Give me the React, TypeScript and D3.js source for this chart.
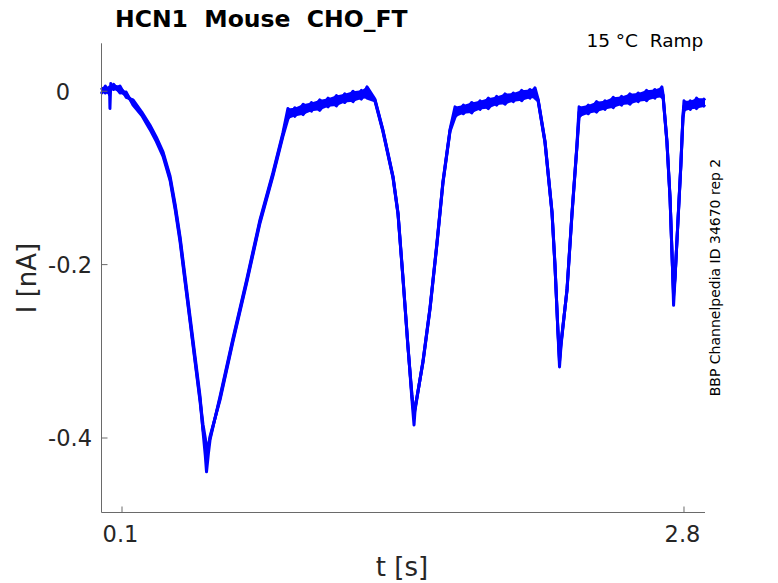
import React from "react";
import * as d3 from "d3";

// sweep time (s), shared by all repetitions
const timeS = [
  0.000, 0.020, 0.040, 0.042, 0.046, 0.060, 0.090, 0.120, 0.153, 0.195,
  0.234, 0.265, 0.297, 0.331, 0.355, 0.379, 0.403, 0.427, 0.451, 0.475,
  0.489, 0.500, 0.506, 0.515, 0.523, 0.571, 0.633, 0.700, 0.763, 0.825,
  0.873, 0.897, 0.930, 0.970, 1.010, 1.050, 1.090, 1.130, 1.170, 1.210,
  1.250, 1.277, 1.315, 1.353, 1.402, 1.426, 1.450, 1.474, 1.493, 1.503,
  1.508, 1.546, 1.580, 1.613, 1.642, 1.676, 1.700, 1.740, 1.780, 1.820,
  1.860, 1.900, 1.940, 1.980, 2.020, 2.060, 2.084, 2.099, 2.132, 2.166,
  2.180, 2.194, 2.202, 2.209, 2.238, 2.262, 2.286, 2.296, 2.340, 2.380,
  2.420, 2.460, 2.500, 2.540, 2.580, 2.620, 2.660, 2.694, 2.699, 2.718,
  2.733, 2.745, 2.750, 2.757, 2.771, 2.785, 2.795, 2.800, 2.830, 2.860,
  2.901,
];

// current (nA) for three repetitions
const repA = [
  0.004, -0.002, 0.005, -0.020, 0.009, 0.002, 0.006, -0.007, -0.010, -0.024,
  -0.039, -0.053, -0.070, -0.098, -0.130, -0.168, -0.214, -0.260, -0.306, -0.352,
  -0.392, -0.420, -0.439, -0.418, -0.402, -0.352, -0.285, -0.216, -0.148, -0.094,
  -0.048, -0.020, -0.029, -0.015, -0.023, -0.010, -0.018, -0.005, -0.013, 0.000,
  -0.009, 0.005, -0.009, -0.044, -0.098, -0.140, -0.215, -0.294, -0.356, -0.385,
  -0.368, -0.311, -0.249, -0.175, -0.104, -0.044, -0.018, -0.026, -0.013, -0.021,
  -0.008, -0.016, -0.003, -0.012, 0.001, -0.008, 0.004, -0.009, -0.057, -0.139,
  -0.199, -0.276, -0.318, -0.294, -0.228, -0.140, -0.061, -0.018, -0.026, -0.012,
  -0.021, -0.007, -0.016, -0.003, -0.012, 0.001, -0.008, 0.005, -0.003, -0.057,
  -0.122, -0.206, -0.247, -0.216, -0.149, -0.084, -0.029, -0.011, -0.021, -0.008,
  -0.018,
];

const repB = [
  -0.003, 0.006, -0.004, 0.003, 0.001, 0.008, -0.002, -0.001, -0.016, -0.028,
  -0.044, -0.058, -0.075, -0.103, -0.136, -0.174, -0.220, -0.266, -0.312, -0.358,
  -0.390, -0.405, -0.416, -0.410, -0.398, -0.356, -0.289, -0.220, -0.152, -0.098,
  -0.052, -0.032, -0.019, -0.027, -0.013, -0.022, -0.008, -0.017, -0.003, -0.012,
  0.001, -0.008, -0.011, -0.046, -0.100, -0.142, -0.217, -0.296, -0.350, -0.372,
  -0.365, -0.313, -0.251, -0.177, -0.106, -0.046, -0.030, -0.016, -0.025, -0.011,
  -0.020, -0.006, -0.015, -0.002, -0.011, 0.002, -0.008, -0.011, -0.059, -0.141,
  -0.201, -0.274, -0.308, -0.290, -0.230, -0.142, -0.063, -0.030, -0.016, -0.024,
  -0.011, -0.019, -0.006, -0.015, -0.002, -0.011, 0.002, -0.007, -0.005, -0.059,
  -0.124, -0.204, -0.232, -0.214, -0.151, -0.086, -0.031, -0.023, -0.011, -0.020,
  -0.008,
];

const repC = [
  0.001, 0.002, -0.001, 0.000, 0.005, 0.005, 0.002, -0.004, -0.013, -0.026,
  -0.041, -0.055, -0.072, -0.101, -0.133, -0.171, -0.218, -0.264, -0.310, -0.356,
  -0.384, -0.400, -0.412, -0.408, -0.400, -0.354, -0.287, -0.218, -0.150, -0.096,
  -0.050, -0.026, -0.022, -0.023, -0.016, -0.018, -0.011, -0.013, -0.006, -0.008,
  -0.002, -0.003, -0.010, -0.045, -0.099, -0.141, -0.216, -0.295, -0.352, -0.374,
  -0.366, -0.312, -0.250, -0.176, -0.105, -0.045, -0.024, -0.020, -0.021, -0.014,
  -0.016, -0.009, -0.011, -0.005, -0.007, -0.001, -0.003, -0.010, -0.058, -0.140,
  -0.200, -0.275, -0.312, -0.292, -0.229, -0.141, -0.062, -0.024, -0.019, -0.020,
  -0.014, -0.015, -0.009, -0.011, -0.005, -0.007, -0.001, -0.002, -0.004, -0.058,
  -0.123, -0.205, -0.236, -0.215, -0.150, -0.085, -0.030, -0.017, -0.016, -0.013,
  -0.013,
];

const xTicks = [0.1, 2.8];
const yTicks = [0, -0.2, -0.4];

const W = 778;
const H = 583;
const FONT = "'DejaVu Sans', sans-serif";

export default function App() {
  const x = d3.scaleLinear().domain([0, 2.9]).range([101.2, 704.8]);
  const y = d3.scaleLinear().domain([-0.4857, 0.0553]).range([512.3, 43.3]);

  const reps = [repA, repB, repC];

  const line = d3
    .line<number>()
    .x((_, i) => x(timeS[i]))
    .y((d) => y(d));

  // spread of the repetitions, drawn as a filled band under the traces
  const band = d3
    .area<number>()
    .x((t) => x(t))
    .y0((_, i) => y(d3.min(reps, (r) => r[i]) as number))
    .y1((_, i) => y(d3.max(reps, (r) => r[i]) as number));

  const left = 101.5;
  const bottom = 512.5;

  return (
    <svg
      width={W}
      height={H}
      style={{ position: "absolute", left: 0, top: 0, display: "block", background: "#fff" }}
      fontFamily={FONT}
    >
      {/* traces */}
      <path d={band(timeS) || ""} fill="#0000ff" stroke="none" />
      {reps.map((rep, k) => (
        <path
          key={k}
          d={line(rep) || ""}
          fill="none"
          stroke="#0000ff"
          strokeWidth={3}
          strokeLinejoin="round"
        />
      ))}

      {/* axes */}
      <line x1={left} x2={left} y1={43.3} y2={bottom} stroke="#6a6a6a" strokeWidth={1} />
      <line x1={left} x2={705} y1={bottom} y2={bottom} stroke="#6a6a6a" strokeWidth={1} />

      {yTicks.map((t) => (
        <g key={t}>
          <line x1={left} x2={left + 6} y1={y(t)} y2={y(t)} stroke="#6a6a6a" />
          <text
            x={t === 0 ? 70 : 92}
            y={y(t) + 8.3}
            textAnchor="end"
            fontSize={22.5}
            fill="#262626"
          >
            {t === 0 ? "0" : d3.format(".1f")(t).replace("−", "-")}
          </text>
        </g>
      ))}

      {xTicks.map((t) => (
        <g key={t}>
          <line x1={x(t)} x2={x(t)} y1={bottom} y2={bottom - 6} stroke="#6a6a6a" />
          <text x={x(t) - 1.5} y={541.7} textAnchor="middle" fontSize={22.5} fill="#262626">
            {t.toFixed(1)}
          </text>
        </g>
      ))}

      {/* axis labels */}
      <text x={402} y={576} textAnchor="middle" fontSize={26} fill="#262626">
        t [s]
      </text>
      <text
        transform="translate(36,278) rotate(-90)"
        textAnchor="middle"
        fontSize={26}
        fill="#262626"
      >
        I [nA]
      </text>

      {/* title and notes */}
      <text
        x={261.3}
        y={26.7}
        textAnchor="middle"
        fontSize={23.5}
        fontWeight="bold"
        fill="#000"
        style={{ whiteSpace: "pre" }}
      >
        {"HCN1  Mouse  CHO_FT"}
      </text>
      <text
        x={703.3}
        y={46.7}
        textAnchor="end"
        fontSize={18.5}
        fill="#000"
        style={{ whiteSpace: "pre" }}
      >
        {"15 °C  Ramp"}
      </text>
      <text
        transform="translate(720.2,277.5) rotate(-90)"
        textAnchor="middle"
        fontSize={14}
        fill="#000"
      >
        BBP Channelpedia ID 34670 rep 2
      </text>
    </svg>
  );
}
